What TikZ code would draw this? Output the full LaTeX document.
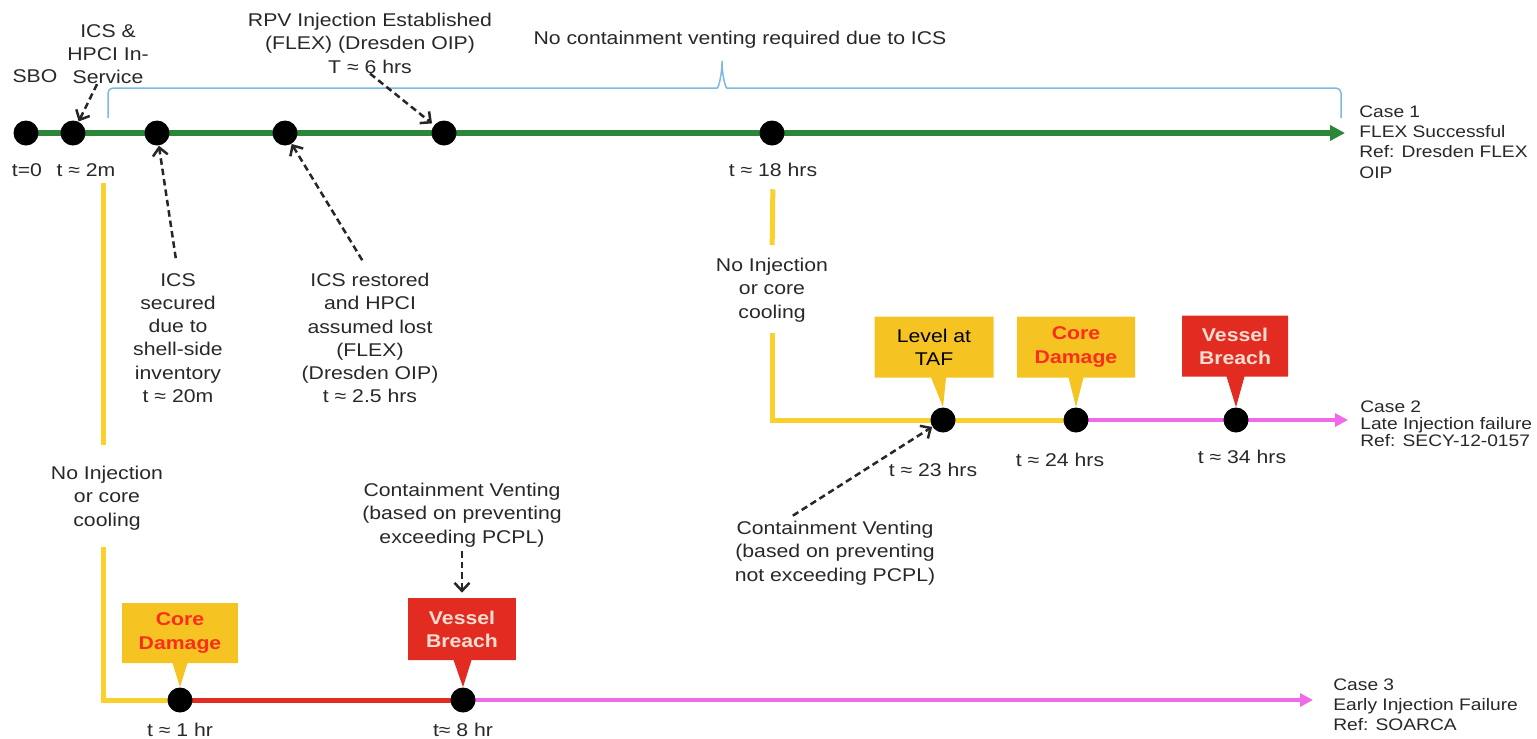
\documentclass[tikz,border=0pt]{standalone}
\usepackage{fontspec}
\setmainfont{Liberation Sans}[FakeStretch=1.15]
\usepackage{xcolor}
\usetikzlibrary{arrows.meta,shapes.callouts,backgrounds}

\definecolor{flexgreen}{RGB}{44,134,58}
\definecolor{bracketblue}{RGB}{125,185,225}
\definecolor{injyellow}{RGB}{250,208,45}
\definecolor{boxyellow}{RGB}{245,196,35}
\definecolor{breachred}{RGB}{226,44,34}
\definecolor{latemagenta}{RGB}{240,105,232}
\definecolor{labelgray}{RGB}{40,40,40}
\definecolor{damagered}{RGB}{250,45,30}
\definecolor{breachtext}{RGB}{250,222,210}

\tikzset{
  event/.style={circle,fill=black,inner sep=0pt,minimum size=0.5cm},
  lbl/.style={align=center,text=labelgray,inner sep=0pt,anchor=north,
    font=\fontsize{10.5}{13.2}\selectfont},
  caselbl/.style={align=left,text=labelgray,inner sep=0pt,anchor=north west,
    font=\fontsize{9.5}{11.4}\selectfont},
  pointer/.style={black!85,line width=0.05cm,dash pattern=on 0.13cm off 0.08cm,
    -{Straight Barb[length=0.16cm,width=0.3cm]}},
  flexline/.style={flexgreen,line width=0.11cm},
  injline/.style={injyellow,line width=0.1cm},
  breachline/.style={breachred,line width=0.1cm},
  lateline/.style={latemagenta,line width=0.09cm},
  yellowbox/.style={rectangle callout,fill=boxyellow,align=center,inner sep=0pt,
    minimum height=1.22cm,callout pointer width=0.3cm,
    font=\fontsize{10.5}{13.2}\selectfont},
  redbox/.style={rectangle callout,fill=breachred,text=breachtext,align=center,
    inner sep=0pt,minimum height=1.22cm,callout pointer width=0.36cm,
    font=\fontsize{10.5}{13.2}\selectfont\bfseries},
}

\begin{document}
\begin{tikzpicture}[x=0.02cm,y=-0.02cm]
  \useasboundingbox (0,0) rectangle (1537,738);

  % case 1 events
  \node[event] (dsbo) at (26,133) {};
  \node[event] (d2m) at (73,133) {};
  \node[event] (d20m) at (157,133) {};
  \node[event] (d25h) at (285,133) {};
  \node[event] (d6h) at (444,133) {};
  \node[event] (d18h) at (772,133) {};
  \coordinate (c1end) at (1345,133);

  % case 2 events
  \node[event] (dtaf) at (943,420) {};
  \node[event] (dcd2) at (1076,420) {};
  \node[event] (dvb2) at (1236,420) {};
  \coordinate (c2end) at (1348,420);

  % case 3 events
  \node[event] (dcd3) at (180,700) {};
  \node[event] (dvb3) at (463,700) {};
  \coordinate (c3top) at (103,183);
  \coordinate (c3corner) at (103,700);
  \coordinate (c3end) at (1313,700);

  % labels case 1
  \node[lbl] (sbo) at (35,69) {SBO};
  \node[lbl] (t0) at (27,163) {t=0};
  \node[lbl] (t2m) at (86,163) {t ≈ 2m};
  \node[lbl] (icsin) at (108,24) {ICS \&\\HPCI In-\\Service};
  \node[lbl] (rpv) at (370,13) {RPV Injection Established\\(FLEX) (Dresden OIP)\\T ≈ 6 hrs};
  \node[lbl] (novent) at (740,31) {No containment venting required due to ICS};
  \node[lbl] (t18) at (773,163) {t ≈ 18 hrs};
  \node[lbl] (secured) at (178,273) {ICS\\secured\\due to\\shell-side\\inventory\\t ≈ 20m};
  \node[lbl] (restored) at (370,273) {ICS restored\\and HPCI\\assumed lost\\(FLEX)\\(Dresden OIP)\\t ≈ 2.5 hrs};
  \node[caselbl,font=\fontsize{9.5}{11.6}\selectfont] (case1) at (1359,105) {Case 1\\FLEX Successful\\Ref: Dresden FLEX\\OIP};

  % labels case 2
  \node[lbl] (noinj2) at (772,258) {No Injection\\or core\\cooling};
  \node[yellowbox,minimum width=2.38cm,callout absolute pointer={(dtaf.north)}] (taf) at (934,347) {Level at\\TAF};
  \node[yellowbox,minimum width=2.36cm,text=damagered,font=\fontsize{10.5}{13.2}\selectfont\bfseries,
    callout absolute pointer={(dcd2.north)}] (cd2) at (1076,347) {Core\\Damage};
  \node[redbox,minimum width=2.12cm,callout absolute pointer={(dvb2.north)}] (vb2) at (1235,346) {Vessel\\Breach};
  \node[lbl] (t23) at (933,463) {t ≈ 23 hrs};
  \node[lbl] (t24) at (1060,453) {t ≈ 24 hrs};
  \node[lbl] (t34) at (1242,450) {t ≈ 34 hrs};
  \node[lbl] (vent2) at (835,521) {Containment Venting\\(based on preventing\\not exceeding PCPL)};
  \node[caselbl,font=\fontsize{9.5}{9.8}\selectfont] (case2) at (1360,400) {Case 2\\Late Injection failure\\Ref: SECY-12-0157};

  % labels case 3
  \node[lbl] (noinj3) at (107,466) {No Injection\\or core\\cooling};
  \node[yellowbox,minimum width=2.32cm,minimum height=1.2cm,text=damagered,font=\fontsize{10.5}{13.2}\selectfont\bfseries,
    callout absolute pointer={(dcd3.north)}] (cd3) at (180,633) {Core\\Damage};
  \node[redbox,minimum width=2.16cm,minimum height=1.24cm,callout absolute pointer={(dvb3.north)}] (vb3) at (462,629) {Vessel\\Breach};
  \node[lbl] (vent3) at (462,483) {Containment Venting\\(based on preventing\\exceeding PCPL)};
  \node[lbl] (t1h) at (180,723) {t ≈ 1 hr};
  \node[lbl] (t8h) at (463,723) {t≈ 8 hr};
  \node[caselbl] (case3) at (1333,678) {Case 3\\Early Injection Failure\\Ref: SOARCA};

  % timelines
  \begin{scope}[on background layer]
    \draw[flexline,-{Triangle[length=0.3cm,width=0.3cm]}] (dsbo.center) -- (c1end);
    \draw[bracketblue,line width=0.03cm,rounded corners=0.1cm]
      (108,118) -- (108,88) -- (712,88) .. controls (719,88) and (722,72) .. (722,58)
      .. controls (722,72) and (725,88) .. (732,88) -- (1341,88) -- (1341,118);
    \draw[injline,shorten <=0.24cm,shorten >=0.26cm] (t18.south) -- (noinj2.north);
    \draw[injline,shorten <=0.22cm] (noinj2.south) |- (dtaf.center) -- (dcd2.center);
    \draw[lateline,-{Triangle[length=0.26cm,width=0.26cm]}] (dcd2.center) -- (c2end);
    \draw[injline,shorten >=0.42cm] (c3top) -- (c3top |- noinj3.north);
    \draw[injline,shorten <=0.34cm] (c3top |- noinj3.south) -- (c3corner) -- (dcd3.center);
    \draw[breachline] (dcd3.center) -- (dvb3.center);
    \draw[lateline,-{Triangle[length=0.26cm,width=0.26cm]}] (dvb3.center) -- (c3end);
  \end{scope}

  % pointers
  \draw[pointer] (icsin.250) -- (d2m);
  \draw[pointer,shorten >=0.05cm] (rpv.south) -- (d6h);
  \draw[pointer,shorten <=0.3cm] (secured.north) -- (d20m);
  \draw[pointer,shorten <=0.3cm] (restored.north) -- (d25h);
  \draw[pointer,shorten <=0.2cm] ([xshift=1cm]vent2.north west) -- (dtaf);
  \draw[pointer,shorten <=0.08cm,shorten >=0.1cm] (vent3.south) -- (vb3.north);
\end{tikzpicture}
\end{document}
